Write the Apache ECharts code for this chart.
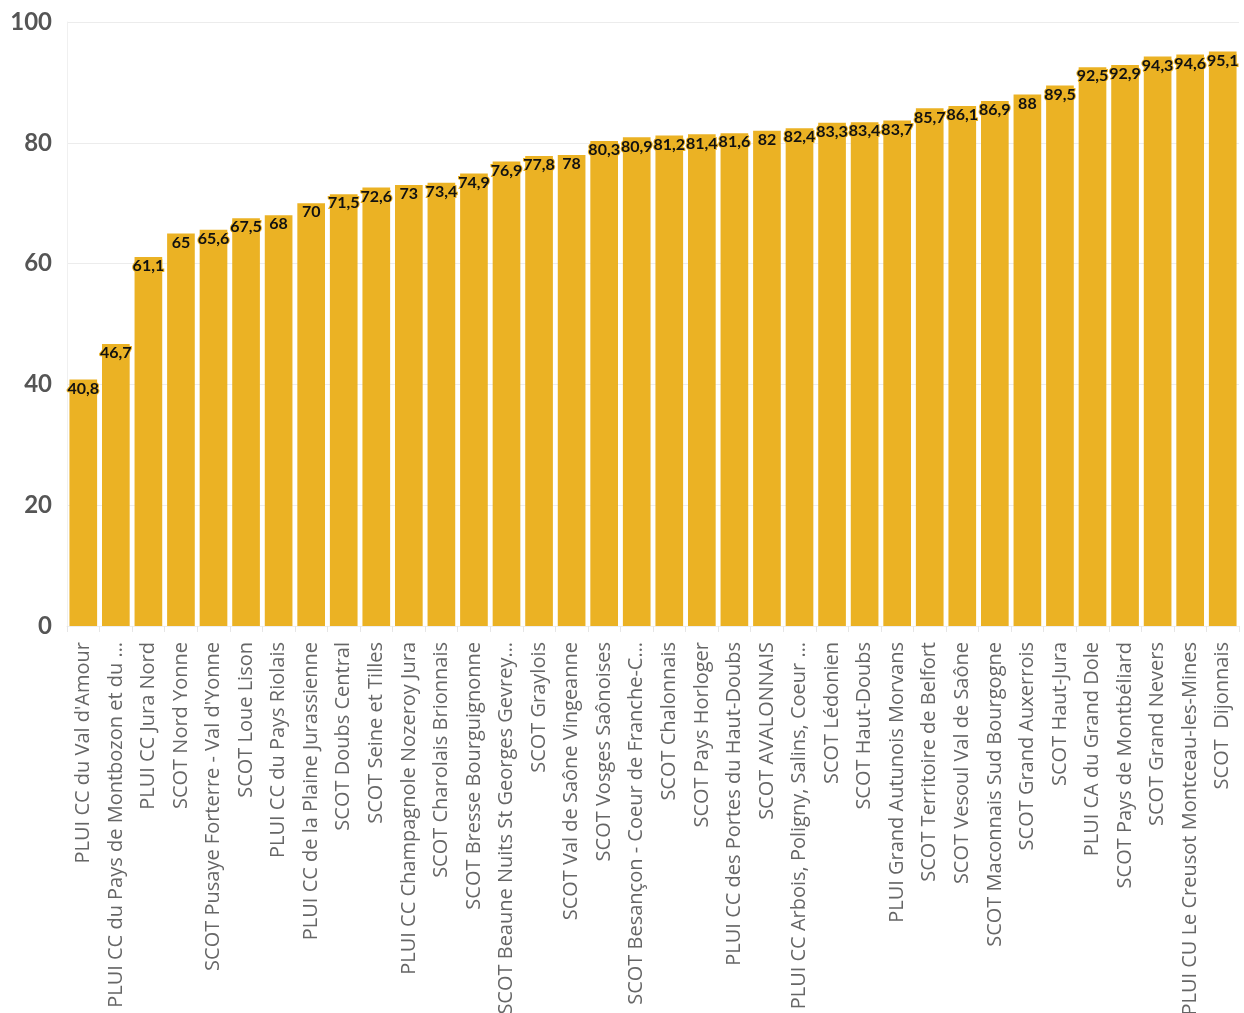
<!DOCTYPE html>
<html><head><meta charset="utf-8">
<script src="https://cdn.jsdelivr.net/npm/echarts@6/dist/echarts.min.js"></script>
<style>html,body{margin:0;padding:0;background:#fff}#c{width:1244px;height:1013px}</style>
</head><body><div id="c"></div>
<script>
const categories = [
"PLUI CC du Val d'Amour","PLUI CC du Pays de Montbozon et du …","PLUI CC Jura Nord","SCOT Nord Yonne",
"SCOT Pusaye Forterre - Val d'Yonne","SCOT Loue Lison","PLUI CC du Pays Riolais","PLUI CC de la Plaine Jurassienne",
"SCOT Doubs Central","SCOT Seine et Tilles","PLUI CC Champagnole Nozeroy Jura","SCOT Charolais Brionnais",
"SCOT Bresse Bourguignonne","SCOT Beaune Nuits St Georges Gevrey…","SCOT Graylois","SCOT Val de Saône Vingeanne",
"SCOT Vosges Saônoises","SCOT Besançon - Coeur de Franche-C…","SCOT Chalonnais","SCOT Pays Horloger",
"PLUI CC des Portes du Haut-Doubs","SCOT AVALONNAIS","PLUI CC Arbois, Poligny, Salins, Coeur …","SCOT Lédonien",
"SCOT Haut-Doubs","PLUI Grand Autunois Morvans","SCOT Territoire de Belfort","SCOT Vesoul Val de Saône",
"SCOT Maconnais Sud Bourgogne","SCOT Grand Auxerrois","SCOT Haut-Jura","PLUI CA du Grand Dole",
"SCOT Pays de Montbéliard","SCOT Grand Nevers","PLUI CU Le Creusot Montceau-les-Mines","SCOT  Dijonnais"];
const values = [40.8,46.7,61.1,65,65.6,67.5,68,70,71.5,72.6,73,73.4,74.9,76.9,77.8,78,80.3,80.9,81.2,81.4,81.6,82,82.4,83.3,83.4,83.7,85.7,86.1,86.9,88,89.5,92.5,92.9,94.3,94.6,95.1];
const yTicks = [0,20,40,60,80,100];

const chart = echarts.init(document.getElementById('c'), null, {renderer:'canvas'});
chart.setOption({
  animation:false,
  grid:{left:67,right:5,top:22,bottom:387,containLabel:false,outerBoundsMode:'none'},
  xAxis:{type:'category',data:categories,
    axisLine:{show:true,lineStyle:{color:'#eeeeee'}},
    axisTick:{show:true,length:6,lineStyle:{color:'#e6e6e6'}},
    axisLabel:{rotate:90,interval:0,color:'#666',fontFamily:'Open Sans',fontSize:20,margin:16}},
  yAxis:{type:'value',min:0,max:100,interval:20,
    axisLine:{show:true,lineStyle:{color:'#f0f0f0'}},
    axisTick:{show:false},
    splitLine:{lineStyle:{color:'#ececec'}},
    axisLabel:{color:'#555',fontFamily:'Lato',fontWeight:'bold',fontSize:24,margin:15,
      formatter:v=>yTicks.includes(v)?String(v):''}},
  series:[{type:'bar',data:values,barCategoryGap:'15%',
    itemStyle:{color:'#ebb224'},
    label:{show:true,position:'insideTop',distance:1,color:'#111',fontFamily:'Lato',fontWeight:'bold',fontSize:16,
      textBorderColor:'#ebb224',textBorderWidth:2,
      formatter:p=>String(p.value).replace('.',',')}}]
});
</script></body></html>
